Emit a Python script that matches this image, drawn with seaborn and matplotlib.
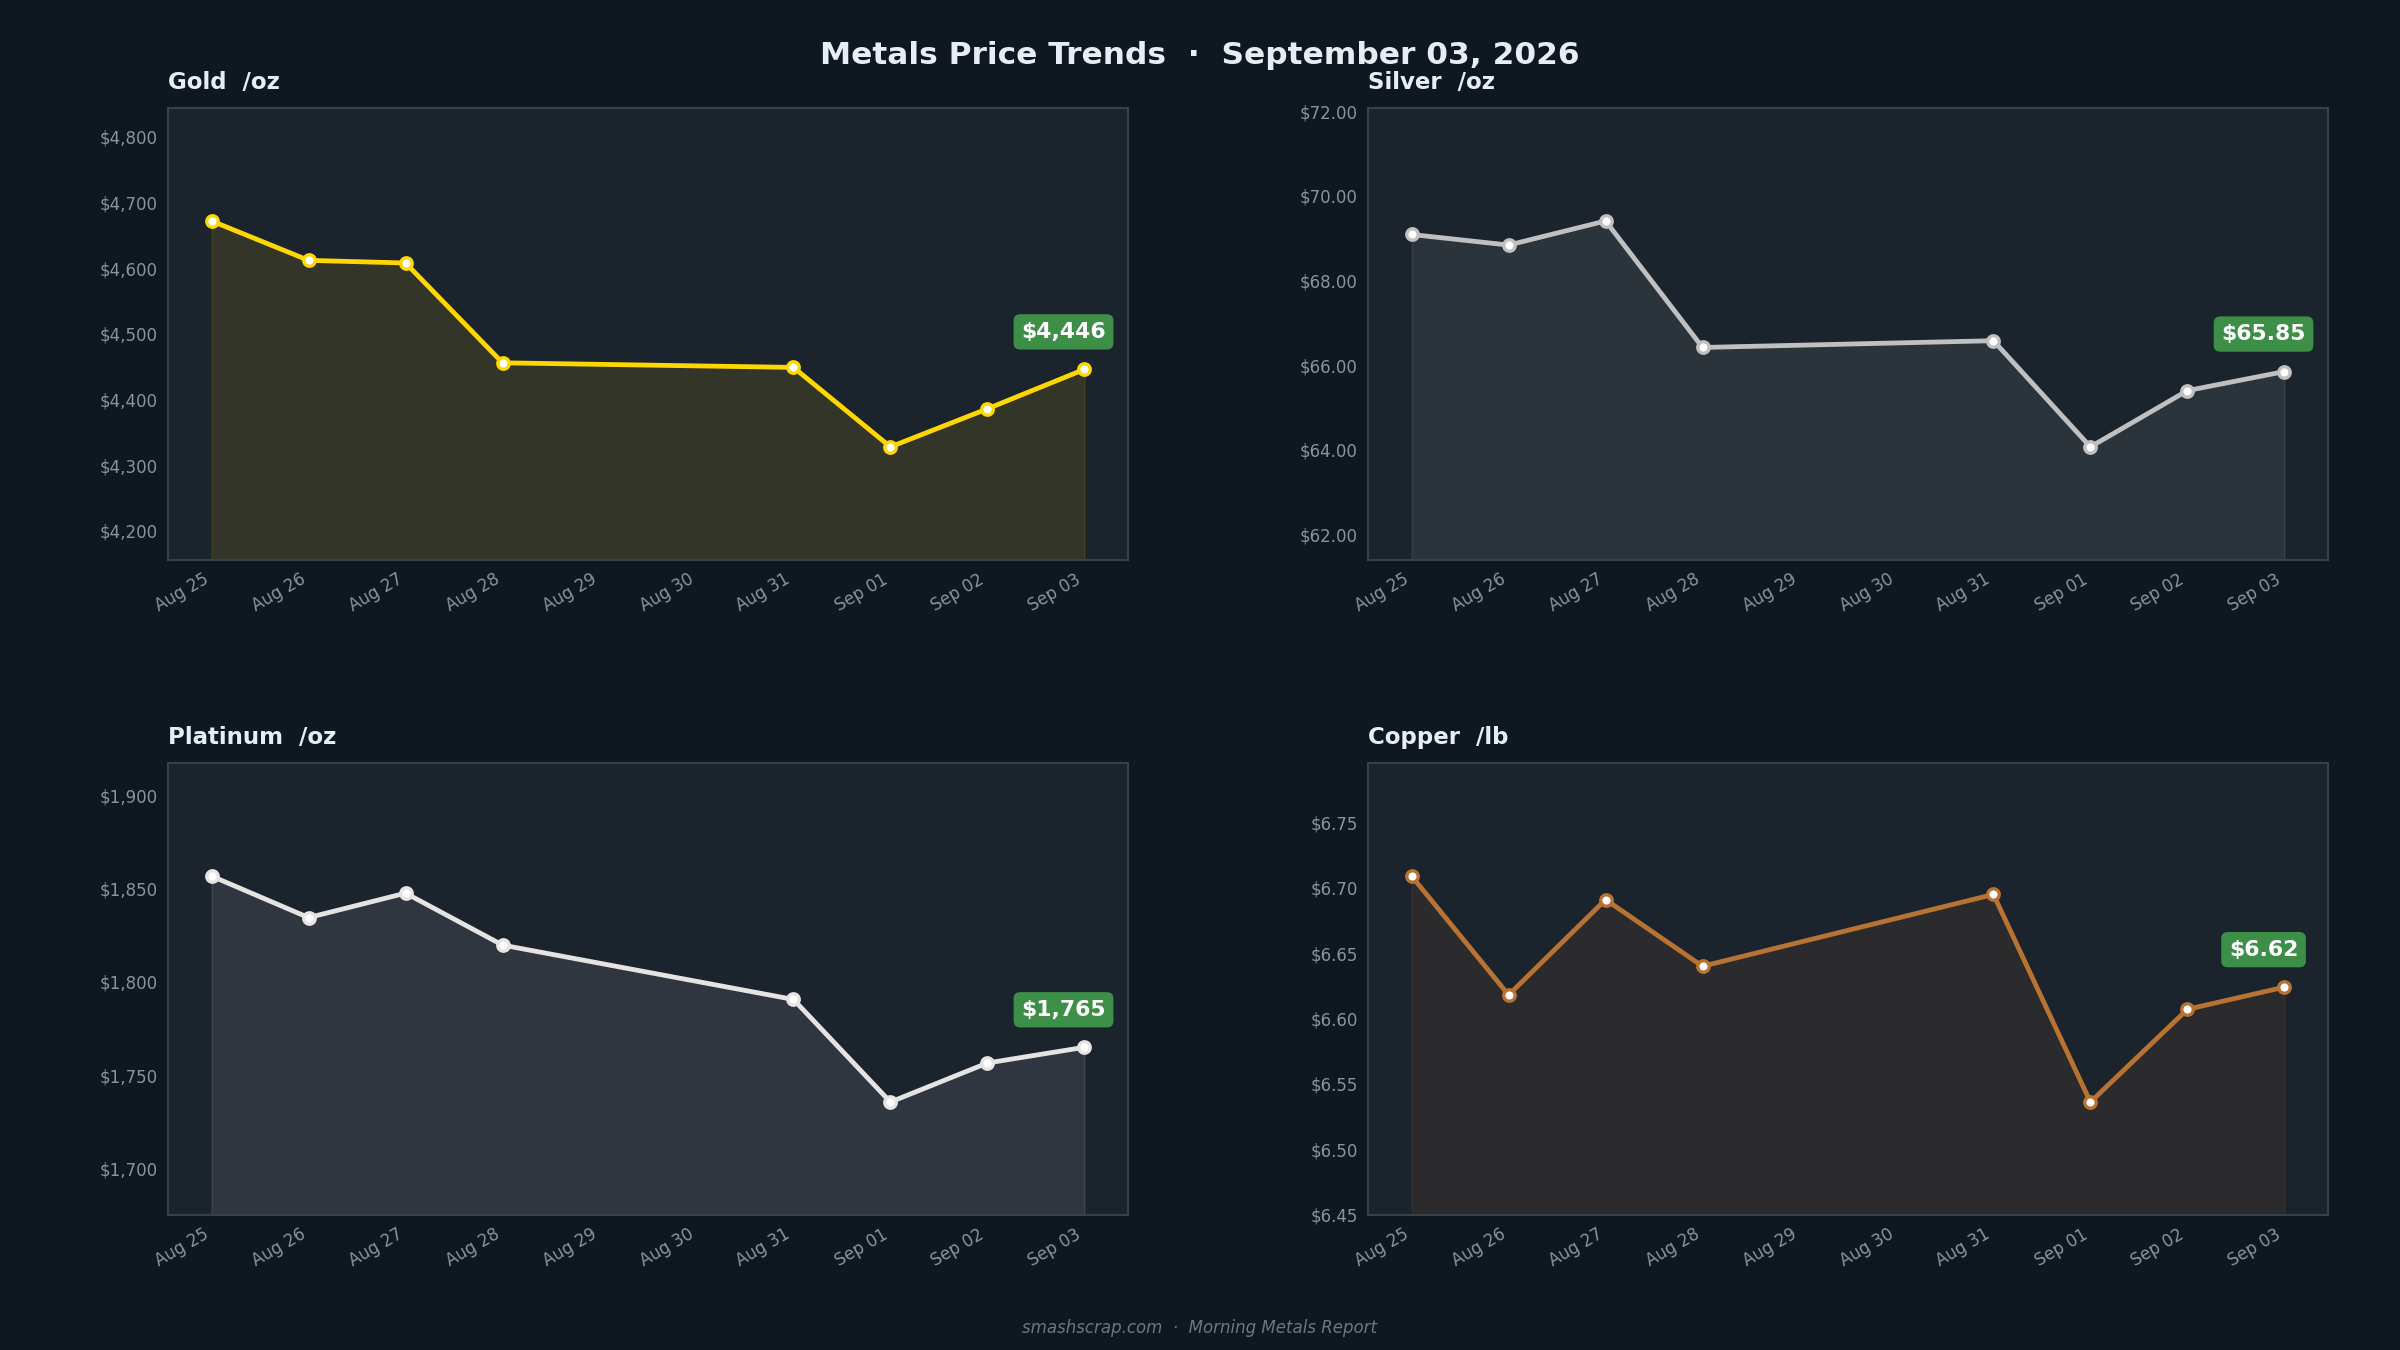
import seaborn as sns
from matplotlib import pyplot as plt
import matplotlib.dates as mdates
from matplotlib.ticker import FuncFormatter, MultipleLocator
import pandas as pd

# trading days (weekend Aug 29/30 skipped)
dates = ["2026-08-25", "2026-08-26", "2026-08-27", "2026-08-28",
         "2026-08-31", "2026-09-01", "2026-09-02", "2026-09-03"]

gold = [4672, 4612, 4608, 4456, 4449, 4328, 4386, 4446]
silver = [69.09, 68.84, 69.41, 66.42, 66.58, 64.07, 65.40, 65.85]
platinum = [1856.6, 1834.4, 1847.5, 1819.7, 1790.6, 1735.7, 1756.6, 1765.0]
copper = [6.709, 6.618, 6.691, 6.640, 6.695, 6.536, 6.607, 6.624]

names = ["Gold  /oz", "Silver  /oz", "Platinum  /oz", "Copper  /lb"]
colors = ["#FFD700", "#C0C0C0", "#E5E4E2", "#B87333"]
badges = ["$4,446", "$65.85", "$1,765", "$6.62"]
fmts = ["${:,.0f}", "${:,.2f}", "${:,.0f}", "${:.2f}"]
steps = [100, 2, 50, 0.05]

fig_bg = "#0f1720"
ax_bg = "#1b232d"
text_c = "#e6edf3"
tick_c = "#8b949e"

sns.set_theme(style="dark")
plt.rcParams["font.family"] = ["DejaVu Sans"]

fig, axes = plt.subplots(2, 2, figsize=(16, 9), dpi=150)
fig.patch.set_facecolor(fig_bg)
plt.subplots_adjust(left=0.07, right=0.97, top=0.92, bottom=0.10, wspace=0.25, hspace=0.45)

series = [gold, silver, platinum, copper]
for ax, vals, name, col, badge, fmt, step in zip(axes.flat, series, names, colors, badges, fmts, steps):
    df = pd.DataFrame({"date": pd.to_datetime(dates), "price": vals})
    ax.set_facecolor(ax_bg)
    lo, hi = min(vals), max(vals)
    rng = hi - lo
    ymin = lo - 0.5 * rng
    ax.fill_between(df["date"], df["price"], ymin, color=col, alpha=0.1, linewidth=0.8)
    sns.lineplot(data=df, x="date", y="price", ax=ax, color=col, linewidth=2.3,
                 marker="o", markersize=5.5, markerfacecolor="white",
                 markeredgecolor=col, markeredgewidth=1.6)
    ax.set_ylim(ymin, hi + 0.5 * rng)
    ax.set_xlim(pd.Timestamp("2026-08-25") - pd.Timedelta(hours=10.8),
                pd.Timestamp("2026-09-03") + pd.Timedelta(hours=10.8))

    ax.xaxis.set_major_locator(mdates.DayLocator())
    ax.xaxis.set_major_formatter(mdates.DateFormatter("%b %d"))
    ax.yaxis.set_major_locator(MultipleLocator(step))
    ax.yaxis.set_major_formatter(FuncFormatter(lambda v, p, f=fmt: f.format(v)))
    ax.tick_params(axis="both", colors=tick_c, labelsize=8, length=0, pad=5)
    plt.setp(ax.get_xticklabels(), rotation=30, ha="right")
    ax.set_xlabel("")
    ax.set_ylabel("")
    ax.grid(False)
    for s in ax.spines.values():
        s.set_visible(True)
        s.set_color("#36414c")
        s.set_linewidth(1)

    ax.set_title(name, loc="left", fontsize=11, fontweight="bold", color=text_c, pad=9)

    ax.annotate(badge, xy=(df["date"].iloc[-1], vals[-1]), xytext=(-10, 18),
                textcoords="offset points", ha="center", va="center",
                fontsize=10.5, fontweight="bold", color="white",
                bbox=dict(boxstyle="round,pad=0.35,rounding_size=0.3", fc="#3d8f47", ec="none"))

fig.suptitle("Metals Price Trends  \u00b7  September 03, 2026", fontsize=15,
             fontweight="bold", color=text_c, y=0.959, va="center")
fig.text(0.5, 0.016, "smashscrap.com  \u00b7  Morning Metals Report", ha="center",
         va="center", fontsize=8, style="italic", color="#6e7681")

plt.savefig("out.png", facecolor=fig_bg)
